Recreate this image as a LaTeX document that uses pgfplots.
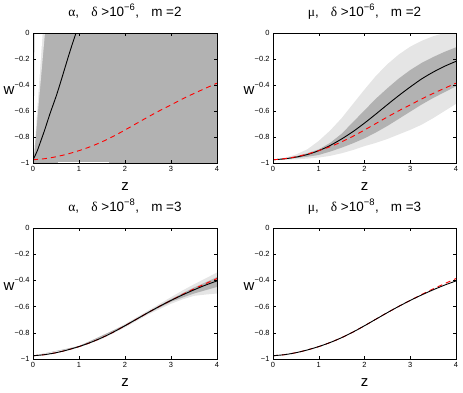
\documentclass[border=0pt]{standalone}
\usepackage{fontspec}
\setmainfont{Liberation Sans}
\newfontfamily\grk{Liberation Serif}
\usepackage{pgfplots}
\pgfplotsset{compat=1.18}

\definecolor{dband}{gray}{0.70}
\definecolor{lband}{gray}{0.90}

\newcommand{\ttl}[3]{{\grk #1},\hspace{0.9em}{\grk δ} >10\textsuperscript{−#2},\hspace{0.9em}m =#3}

\pgfplotsset{panel/.style={
  scale only axis, width=184bp, height=130bp,
  xmin=0, xmax=4, ymin=-1, ymax=0,
  xtick={0,1,2,3,4}, xticklabels={0,1,2,3,4},
  ytick={-1,-0.8,-0.6,-0.4,-0.2,0},
  yticklabels={−1,−0.8,−0.6,−0.4,−0.2,0},
  tick align=inside, tick pos=both, major tick length=3bp,
  tick label style={font=\fontsize{7.5}{8}\selectfont},
  every tick/.style={black, line width=0.5bp},
  axis line style={line width=0.5bp},
  xlabel={z}, ylabel={w},
  every axis x label/.style={at={(axis description cs:0.5,0)}, anchor=north, yshift=-16bp, font=\fontsize{15}{17}\selectfont},
  every axis y label/.style={at={(axis description cs:-0.1,0.555)}, anchor=east, inner sep=0pt, font=\fontsize{15}{17}\selectfont},
  title style={at={(axis description cs:0.5,1)}, anchor=base, yshift=11bp, font=\fontsize{13.5}{15}\selectfont},
  axis on top,
},
fit/.style={black, line width=0.9bp, smooth},
ref/.style={red, line width=0.9bp, dash pattern=on 5bp off 4bp, smooth},
}

% reference model (red dashed), same in every panel
\newcommand{\refcurve}{\addplot[ref] coordinates {
 (0,-0.975) (0.25,-0.967) (0.5,-0.952) (0.75,-0.931) (1,-0.905) (1.25,-0.874)
 (1.5,-0.837) (1.75,-0.794) (2,-0.746) (2.25,-0.696) (2.5,-0.646) (2.75,-0.598)
 (3,-0.553) (3.25,-0.507) (3.5,-0.465) (3.75,-0.425) (4,-0.386)};}

% best fit for the m=3 panels
\newcommand{\fitthree}{\addplot[fit] coordinates {
 (0,-0.975) (0.25,-0.967) (0.5,-0.952) (0.75,-0.931) (1,-0.905) (1.25,-0.874)
 (1.5,-0.837) (1.75,-0.794) (2,-0.746) (2.25,-0.696) (2.5,-0.646) (2.75,-0.598)
 (3,-0.553) (3.25,-0.511) (3.5,-0.472) (3.75,-0.436) (4,-0.404)};}

\begin{document}
\begin{tikzpicture}

% top left
\begin{axis}[panel, at={(33bp,-163bp)}, anchor=south west, title={\ttl{α}{6}{2}}]
\addplot[draw=none, fill=dband] coordinates {(0,-1) (4,-1) (4,0) (0,0)} -- cycle;
\addplot[draw=none, fill=lband] coordinates {(0.035,0) (0.26,0) (0.03,-0.92)} -- cycle;
\addplot[draw=none, fill=white] coordinates {(0.035,0) (0.21,0) (0.025,-0.925) (0.02,-0.93)} -- cycle;
\addplot[draw=none, fill=white] coordinates {(0.55,-1) (1.65,-1) (1.65,-0.993) (0.55,-0.993)} -- cycle;
\addplot[fit] coordinates {
 (0,-0.975) (0.05,-0.94) (0.1,-0.9) (0.15,-0.85) (0.25,-0.75) (0.37,-0.62)
 (0.5,-0.49) (0.59,-0.39) (0.68,-0.285) (0.77,-0.18) (0.85,-0.09) (0.935,0)};
\refcurve
\end{axis}

% top right
\begin{axis}[panel, width=183bp, at={(273bp,-163bp)}, anchor=south west, title={\ttl{μ}{6}{2}}]
\addplot[draw=none, fill=lband] coordinates {
 (0,-0.975) (0.25,-0.96) (0.5,-0.935) (0.75,-0.895) (1,-0.83) (1.25,-0.75)
 (1.5,-0.655) (1.75,-0.545) (2,-0.435) (2.25,-0.33) (2.5,-0.24) (2.75,-0.165)
 (3,-0.105) (3.25,-0.06) (3.5,-0.025) (3.75,0) (4,0.02)
 (4,-0.545) (3.75,-0.6) (3.5,-0.655) (3.25,-0.705) (3,-0.745) (2.75,-0.78)
 (2.5,-0.815) (2.25,-0.845) (2,-0.87) (1.75,-0.9) (1.5,-0.925) (1.25,-0.945)
 (1,-0.958) (0.75,-0.966) (0.5,-0.972) (0.25,-0.975)} -- cycle;
\addplot[draw=none, fill=dband] coordinates {
 (0,-0.975) (0.25,-0.966) (0.5,-0.948) (0.75,-0.925) (1,-0.895) (1.25,-0.845)
 (1.5,-0.775) (1.75,-0.685) (2,-0.595) (2.25,-0.505) (2.5,-0.425) (2.75,-0.35)
 (3,-0.285) (3.25,-0.23) (3.5,-0.185) (3.75,-0.145) (4,-0.11)
 (4,-0.41) (3.75,-0.455) (3.5,-0.5) (3.25,-0.55) (3,-0.605) (2.75,-0.66)
 (2.5,-0.715) (2.25,-0.765) (2,-0.81) (1.75,-0.848) (1.5,-0.882) (1.25,-0.912)
 (1,-0.938) (0.75,-0.952) (0.5,-0.962) (0.25,-0.97)} -- cycle;
\addplot[fit] coordinates {
 (0,-0.975) (0.25,-0.968) (0.5,-0.955) (0.75,-0.935) (1,-0.905) (1.25,-0.865)
 (1.5,-0.815) (1.75,-0.758) (2,-0.693) (2.25,-0.623) (2.5,-0.551) (2.75,-0.481)
 (3,-0.415) (3.25,-0.353) (3.5,-0.301) (3.75,-0.256) (4,-0.218)};
\refcurve
\end{axis}

% bottom left
\begin{axis}[panel, height=131bp, at={(33bp,-359bp)}, anchor=south west, title={\ttl{α}{8}{3}}]
\addplot[draw=none, fill=dband] coordinates {(0,-1) (0.02,-1) (0.02,0) (0,0)} -- cycle;
\addplot[draw=none, fill=lband] coordinates {
 (0,-0.975) (0.5,-0.948) (1,-0.898) (1.5,-0.827) (2,-0.733) (2.5,-0.631)
 (3,-0.528) (3.25,-0.477) (3.5,-0.43) (3.75,-0.385) (4,-0.34)
 (4,-0.5) (3.75,-0.508) (3.5,-0.518) (3.25,-0.545) (3,-0.578) (2.5,-0.661)
 (2,-0.759) (1.5,-0.847) (1,-0.912) (0.5,-0.956)} -- cycle;
\addplot[draw=none, fill=dband] coordinates {
 (0,-0.975) (1,-0.902) (2,-0.74) (2.5,-0.64) (3,-0.543) (3.5,-0.455) (4,-0.375)
 (4,-0.45) (3.5,-0.5) (3,-0.563) (2.5,-0.652) (2,-0.752) (1,-0.908)} -- cycle;
\refcurve
\fitthree
\end{axis}

% bottom right
\begin{axis}[panel, width=183bp, height=131bp, at={(273bp,-359bp)}, anchor=south west, title={\ttl{μ}{8}{3}}]
\addplot[draw=none, fill=dband] coordinates {(0,-1) (0.015,-1) (0.015,0) (0,0)} -- cycle;
\refcurve
\fitthree
\end{axis}

\pgfresetboundingbox
\useasboundingbox (0,0) rectangle (463bp,-393bp);
\end{tikzpicture}
\end{document}
